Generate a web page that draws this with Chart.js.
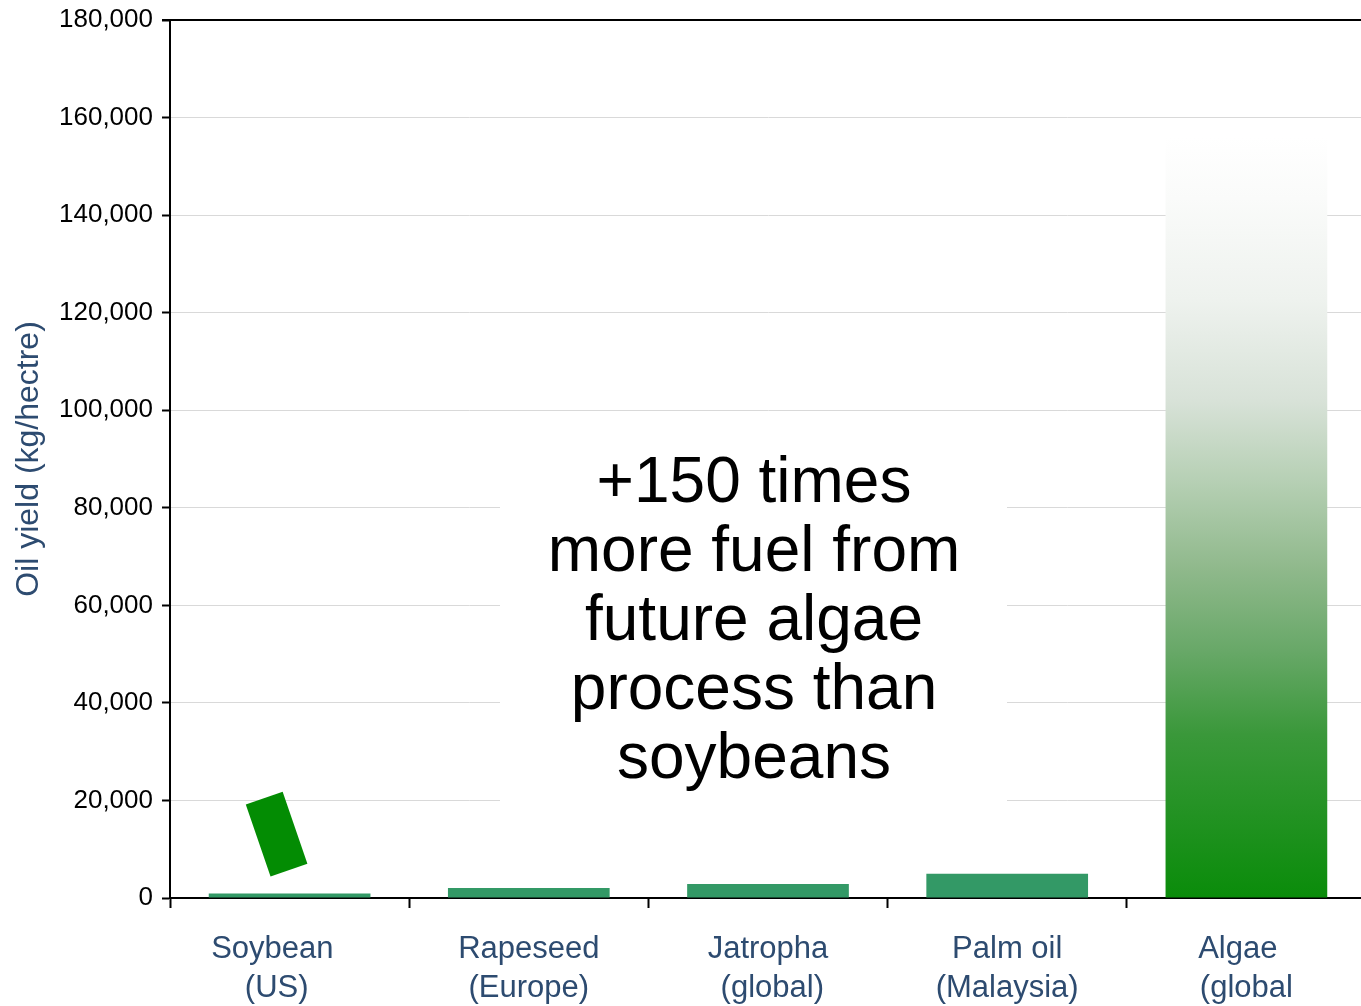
<!DOCTYPE html>
<html>
<head>
<meta charset="utf-8">
<script src="https://cdn.jsdelivr.net/npm/chart.js@4"></script>
<style>
  html, body { margin: 0; padding: 0; background: #fff; overflow: hidden; }
  #wrap { width: 1366px; height: 1006px; }
</style>
</head>
<body>
<div id="wrap"><canvas id="chart"></canvas></div>
<script>
// data
const categories = [["Soybean    ", "(US)   "], ["Rapeseed", "(Europe)"], ["Jatropha", " (global)"], ["Palm oil", "(Malaysia)"], ["Algae  ", "(global"]];
const oilYield = [900, 2050, 2850, 4950, 156000];
const yTicks = [0, 20000, 40000, 60000, 80000, 100000, 120000, 140000, 160000, 180000];
const noteLines = ["+150 times", "more fuel from", "future algae", "process than", "soybeans"];

const barGreen = "#339966";
const labelBlue = "#2d4b70";

// gradient for the algae bar, green at the base fading to white
const algaeStops = [
  [0, "#0a8c0a"], [0.215, "#3a983a"], [0.325, "#68a868"], [0.434, "#90b98c"],
  [0.545, "#b5cfb3"], [0.654, "#d8e2d8"], [0.786, "#eef2ee"], [0.92, "#fafbfa"], [1, "#ffffff"]
];

function barColor(ctx) {
  if (ctx.dataIndex !== oilYield.length - 1) return barGreen;
  const chart = ctx.chart;
  if (!chart.chartArea) return barGreen;
  const y = chart.scales.y;
  const g = chart.ctx.createLinearGradient(0, y.getPixelForValue(0), 0, y.getPixelForValue(oilYield[ctx.dataIndex]));
  algaeStops.forEach(s => g.addColorStop(s[0], s[1]));
  return g;
}

// white note box with the big text, drawn over the grid
const notePlugin = {
  id: "note",
  beforeDatasetsDraw(chart) {
    const { ctx, chartArea } = chart;
    const y = chart.scales.y;
    const cx = chartArea.left + 584;
    const cy = y.getPixelForValue(57000);
    ctx.save();
    ctx.fillStyle = "#fff";
    ctx.fillRect(cx - 254, cy - 180, 507, 380);
    ctx.fillStyle = "#000";
    ctx.font = "64px 'Liberation Sans', Arial, sans-serif";
    ctx.textAlign = "center";
    ctx.textBaseline = "middle";
    const lh = 69;
    noteLines.forEach((t, i) => {
      ctx.fillText(t, cx, cy + (i - (noteLines.length - 1) / 2) * lh + 2);
    });
    ctx.restore();
  }
};

// top frame line and the tilted green marker near the soybean bar
const framePlugin = {
  id: "frame",
  afterDatasetsDraw(chart) {
    const { ctx, chartArea } = chart;
    const x = chart.scales.x;
    const y = chart.scales.y;
    ctx.save();
    ctx.strokeStyle = "#000";
    ctx.lineWidth = 2;
    ctx.beginPath();
    ctx.moveTo(chartArea.left - 8, chartArea.top);
    ctx.lineTo(chartArea.right, chartArea.top);
    ctx.stroke();

    ctx.translate(x.getPixelForValue(0) - 13, y.getPixelForValue(13100));
    ctx.rotate(-19 * Math.PI / 180);
    ctx.fillStyle = "#038c03";
    ctx.fillRect(-19.5, -38, 39, 76);
    ctx.restore();
  }
};

new Chart(document.getElementById("chart"), {
  type: "bar",
  data: {
    labels: categories,
    datasets: [{
      data: oilYield,
      backgroundColor: barColor,
      borderWidth: 0,
      categoryPercentage: 1,
      barPercentage: 0.676
    }]
  },
  options: {
    responsive: true,
    maintainAspectRatio: false,
    animation: false,
    layout: { padding: { top: 20, right: 0, left: 0, bottom: 0 } },
    plugins: { legend: { display: false }, tooltip: { enabled: false } },
    scales: {
      x: {
        grid: { display: true, drawOnChartArea: false, offset: true, tickLength: 10, tickColor: "#000", tickWidth: 2 },
        border: { display: true, color: "#000", width: 2 },
        ticks: {
          color: labelBlue,
          padding: 22,
          maxRotation: 0,
          autoSkip: false,
          font: { family: "'Liberation Sans', Arial, sans-serif", size: 31, lineHeight: 1.26 }
        },
        afterFit(scale) { scale.height = 108; }
      },
      y: {
        min: 0,
        max: 180000,
        afterBuildTicks(scale) { scale.ticks = yTicks.map(v => ({ value: v })); },
        grid: { color: "#d9d9d9", lineWidth: 1, tickLength: 8, tickColor: "#000", tickWidth: 2 },
        border: { display: true, color: "#000", width: 2 },
        ticks: {
          color: "#000",
          padding: 9,
          font: { family: "'Liberation Sans', Arial, sans-serif", size: 26 },
          callback: v => v.toLocaleString("en-US")
        },
        title: {
          display: true,
          text: "Oil yield (kg/hectre)",
          color: labelBlue,
          padding: { top: 10, bottom: 0 },
          font: { family: "'Liberation Sans', Arial, sans-serif", size: 32 }
        },
        afterFit(scale) {
          scale.width = 170;
          scale.paddingTop = 0;
          scale.paddingBottom = 0;
        }
      }
    }
  },
  plugins: [notePlugin, framePlugin]
});
</script>
</body>
</html>
